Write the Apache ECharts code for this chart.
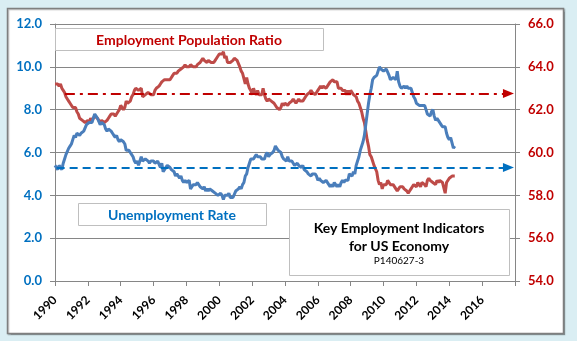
<!DOCTYPE html>
<html>
<head>
<meta charset="utf-8">
<script src="https://cdn.jsdelivr.net/npm/echarts@6/dist/echarts.min.js"></script>
<style>
html,body{margin:0;padding:0;background:#DAEEF3;}
#c{width:577px;height:341px;}
</style>
</head>
<body>
<div id="c"></div>
<script>
// Monthly data, starting January 1990, ending May 2014
const startYear = 1990;
const unemploymentRate = [
  5.4,5.3,5.2,5.4,5.4,5.2,5.5,5.7,5.9,5.9,6.2,6.3,
  6.4,6.6,6.8,6.7,6.9,6.9,6.8,6.9,6.9,7.0,7.0,7.3,
  7.3,7.4,7.4,7.4,7.6,7.8,7.7,7.6,7.6,7.3,7.4,7.4,
  7.3,7.1,7.0,7.1,7.1,7.0,6.9,6.8,6.7,6.8,6.6,6.5,
  6.6,6.6,6.5,6.4,6.1,6.1,6.1,6.0,5.9,5.8,5.6,5.5,
  5.6,5.4,5.4,5.8,5.6,5.6,5.7,5.7,5.6,5.5,5.6,5.6,
  5.6,5.5,5.5,5.6,5.6,5.3,5.5,5.1,5.2,5.2,5.4,5.4,
  5.3,5.2,5.2,5.1,4.9,5.0,4.9,4.8,4.9,4.7,4.6,4.7,
  4.6,4.6,4.7,4.3,4.4,4.5,4.5,4.5,4.6,4.5,4.4,4.4,
  4.3,4.4,4.2,4.3,4.2,4.3,4.3,4.2,4.2,4.1,4.1,4.0,
  4.0,4.1,4.0,3.8,4.0,4.0,4.0,4.1,3.9,3.9,3.9,3.9,
  4.2,4.2,4.3,4.4,4.3,4.5,4.6,4.9,5.0,5.3,5.5,5.7,
  5.7,5.7,5.7,5.9,5.8,5.8,5.8,5.7,5.7,5.7,5.9,6.0,
  5.8,5.9,5.9,6.0,6.1,6.3,6.2,6.1,6.1,6.0,5.8,5.7,
  5.7,5.6,5.8,5.6,5.6,5.6,5.5,5.4,5.4,5.5,5.4,5.4,
  5.3,5.4,5.2,5.2,5.1,5.0,5.0,4.9,5.0,5.0,5.0,4.9,
  4.7,4.8,4.7,4.7,4.6,4.6,4.7,4.7,4.5,4.4,4.5,4.4,
  4.6,4.5,4.4,4.5,4.4,4.6,4.7,4.6,4.7,4.7,4.7,5.0,
  5.0,4.9,5.1,5.0,5.4,5.6,5.8,6.1,6.1,6.5,6.8,7.3,
  7.8,8.3,8.7,9.0,9.4,9.5,9.5,9.6,9.8,10.0,9.9,9.9,
  9.8,9.8,9.9,9.9,9.6,9.4,9.4,9.5,9.5,9.4,9.8,9.3,
  9.1,9.0,9.0,9.1,9.0,9.1,9.0,9.0,9.0,8.8,8.6,8.5,
  8.3,8.3,8.2,8.2,8.2,8.2,8.2,8.0,7.8,7.8,7.7,7.9,
  8.0,7.7,7.5,7.6,7.5,7.5,7.3,7.2,7.2,7.2,6.9,6.7,
  6.6,6.7,6.7,6.2,6.3
];
const empPopRatio = [
  63.2,63.2,63.2,63.1,63.2,63.0,62.9,62.8,62.6,62.5,62.4,62.3,
  62.3,62.1,62.1,62.1,61.9,61.8,61.6,61.6,61.5,61.5,61.4,61.4,
  61.5,61.4,61.6,61.5,61.6,61.7,61.7,61.6,61.5,61.4,61.5,61.5,
  61.4,61.4,61.5,61.6,61.7,61.8,61.8,61.8,61.7,61.8,61.9,62.0,
  62.2,62.2,62.0,62.1,62.4,62.3,62.3,62.4,62.6,62.7,62.9,63.0,
  63.0,62.9,62.9,63.0,62.6,62.6,62.7,62.7,62.8,62.8,62.7,62.7,
  62.7,62.9,63.0,63.0,63.1,63.2,63.3,63.3,63.4,63.4,63.4,63.4,
  63.4,63.4,63.6,63.7,63.7,63.7,63.8,63.8,63.9,63.9,64.0,64.1,
  64.0,64.0,64.0,64.1,64.1,64.0,64.0,64.0,64.1,64.1,64.2,64.3,
  64.4,64.3,64.3,64.2,64.3,64.3,64.2,64.2,64.2,64.3,64.4,64.4,
  64.6,64.6,64.6,64.7,64.4,64.5,64.2,64.2,64.2,64.2,64.3,64.4,
  64.4,64.3,64.3,64.0,63.8,63.7,63.7,63.2,63.5,63.2,63.0,62.9,
  62.7,63.0,62.8,62.7,62.9,62.7,62.7,62.7,63.0,62.7,62.5,62.4,
  62.5,62.5,62.4,62.4,62.3,62.3,62.1,62.1,62.0,62.1,62.3,62.2,
  62.3,62.3,62.2,62.3,62.3,62.4,62.5,62.4,62.3,62.3,62.5,62.4,
  62.4,62.4,62.4,62.6,62.7,62.7,62.8,62.9,62.8,62.8,62.7,62.8,
  62.9,63.0,63.1,63.0,63.1,63.1,63.0,63.1,63.1,63.3,63.3,63.4,
  63.3,63.3,63.3,63.0,63.0,63.0,62.9,62.9,62.9,62.7,62.9,62.7,
  62.9,62.8,62.7,62.7,62.6,62.4,62.3,62.1,61.9,61.6,61.4,61.0,
  60.6,60.3,59.9,59.8,59.6,59.4,59.4,59.1,58.7,58.5,58.6,58.3,
  58.5,58.5,58.5,58.7,58.6,58.5,58.5,58.5,58.5,58.3,58.2,58.3,
  58.4,58.4,58.4,58.3,58.3,58.2,58.1,58.2,58.3,58.4,58.5,58.5,
  58.4,58.6,58.5,58.4,58.6,58.6,58.5,58.4,58.7,58.8,58.7,58.7,
  58.6,58.6,58.5,58.7,58.6,58.7,58.7,58.6,58.6,58.1,58.6,58.6,
  58.8,58.8,58.9,58.9,58.9
];
// Reference (average) lines: value and x extent
const empPopRef = 62.75;
const empPopRefSpan = [1990.6, 2017.6];
const unempRef = 5.3;
const unempRefSpan = [1990.1, 2017.6];
// Axis ranges
const xRange = [1990, 2018, 2];
const leftRange = [0, 12, 2];
const rightRange = [54, 66, 2];

const toXY = (arr) => arr.map((v, i) => [startYear + i / 12, v]);

const chart = echarts.init(document.getElementById('c'), null, {renderer: 'canvas'});
const FONT = 'Lato, "Liberation Sans", sans-serif';
const GRAY = '#868686';

const option = {
  backgroundColor: '#DAEEF3',
  animation: false,
  grid: {left: 55, right: 62, top: 24, bottom: 60, containLabel: false},
  xAxis: {
    type: 'value', min: xRange[0], max: xRange[1], interval: xRange[2],
    axisLine: {show: true, lineStyle: {color: GRAY, width: 1}},
    axisTick: {show: true, length: 5, lineStyle: {color: GRAY}},
    splitLine: {show: false},
    axisLabel: {
      rotate: 45, margin: 17, color: '#000', fontFamily: FONT, fontWeight: 'bold', fontSize: 12,
      formatter: v => (v >= xRange[1] ? '' : String(v))
    }
  },
  yAxis: [
    {
      type: 'value', min: leftRange[0], max: leftRange[1], interval: leftRange[2], position: 'left',
      axisLine: {show: true, lineStyle: {color: GRAY}},
      axisTick: {show: true, length: 5, lineStyle: {color: GRAY}},
      splitLine: {show: true, lineStyle: {color: GRAY, width: 1}},
      axisLabel: {margin: 13, color: '#0070C0', fontFamily: FONT, fontWeight: 'bold', fontSize: 13,
        formatter: v => v.toFixed(1)}
    },
    {
      type: 'value', min: rightRange[0], max: rightRange[1], interval: rightRange[2], position: 'right',
      axisLine: {show: true, lineStyle: {color: GRAY}},
      axisTick: {show: true, length: 5, lineStyle: {color: GRAY}},
      splitLine: {show: false},
      axisLabel: {margin: 13, color: '#C00000', fontFamily: FONT, fontWeight: 'bold', fontSize: 13,
        formatter: v => v.toFixed(1)}
    }
  ],
  graphic: [
    {type: 'rect', z: -10, shape: {x: 7.5, y: 8.5, width: 556, height: 325},
      style: {fill: '#fff', stroke: '#7F7F7F', lineWidth: 1.5,
        shadowColor: 'rgba(0,0,0,0.25)', shadowOffsetX: 1, shadowOffsetY: 1, shadowBlur: 1}},
    {type: 'rect', z: 50, shape: {x: 55.5, y: 28.5, width: 268, height: 22},
      style: {fill: '#fff', stroke: '#BFBFBF', lineWidth: 1}},
    {type: 'text', z: 51, x: 189, y: 40,
      style: {text: 'Employment Population Ratio', fill: '#C00000', font: 'bold 14px ' + FONT,
        textAlign: 'center', textVerticalAlign: 'middle'}},
    {type: 'rect', z: 50, shape: {x: 78.5, y: 203.5, width: 188, height: 22},
      style: {fill: '#fff', stroke: '#BFBFBF', lineWidth: 1}},
    {type: 'text', z: 51, x: 172, y: 215,
      style: {text: 'Unemployment Rate', fill: '#0070C0', font: 'bold 14px ' + FONT,
        textAlign: 'center', textVerticalAlign: 'middle'}},
    {type: 'rect', z: 50, shape: {x: 289.5, y: 209.5, width: 220, height: 66},
      style: {fill: '#fff', stroke: '#BFBFBF', lineWidth: 1}},
    {type: 'text', z: 51, x: 399, y: 228,
      style: {text: 'Key Employment Indicators', fill: '#000', font: 'bold 14px ' + FONT,
        textAlign: 'center', textVerticalAlign: 'middle'}},
    {type: 'text', z: 51, x: 399, y: 246,
      style: {text: 'for US Economy', fill: '#000', font: 'bold 14px ' + FONT,
        textAlign: 'center', textVerticalAlign: 'middle'}},
    {type: 'text', z: 51, x: 399, y: 261,
      style: {text: 'P140627-3', fill: '#000', font: '10px ' + FONT,
        textAlign: 'center', textVerticalAlign: 'middle'}}
  ],
  series: [
    {
      name: 'Employment Population Ratio', type: 'line', yAxisIndex: 1,
      data: toXY(empPopRatio), showSymbol: false, symbol: 'none',
      lineStyle: {color: '#BE4B48', width: 3}, z: 3,
      markLine: {
        silent: true, symbol: ['none', 'triangle'], symbolSize: [9, 11],
        label: {show: false},
        lineStyle: {color: '#C00000', width: 2, type: [10, 5, 3, 5]},
        data: [[{coord: [empPopRefSpan[0], empPopRef]}, {coord: [empPopRefSpan[1], empPopRef]}]]
      }
    },
    {
      name: 'Unemployment Rate', type: 'line', yAxisIndex: 0,
      data: toXY(unemploymentRate), showSymbol: false, symbol: 'none',
      lineStyle: {color: '#4A7EBB', width: 3}, z: 4,
      markLine: {
        silent: true, symbol: ['none', 'triangle'], symbolSize: [9, 11],
        label: {show: false},
        lineStyle: {color: '#0070C0', width: 2, type: [8, 5]},
        data: [[{coord: [unempRefSpan[0], unempRef]}, {coord: [unempRefSpan[1], unempRef]}]]
      }
    }
  ]
};
chart.setOption(option);
</script>
</body>
</html>
